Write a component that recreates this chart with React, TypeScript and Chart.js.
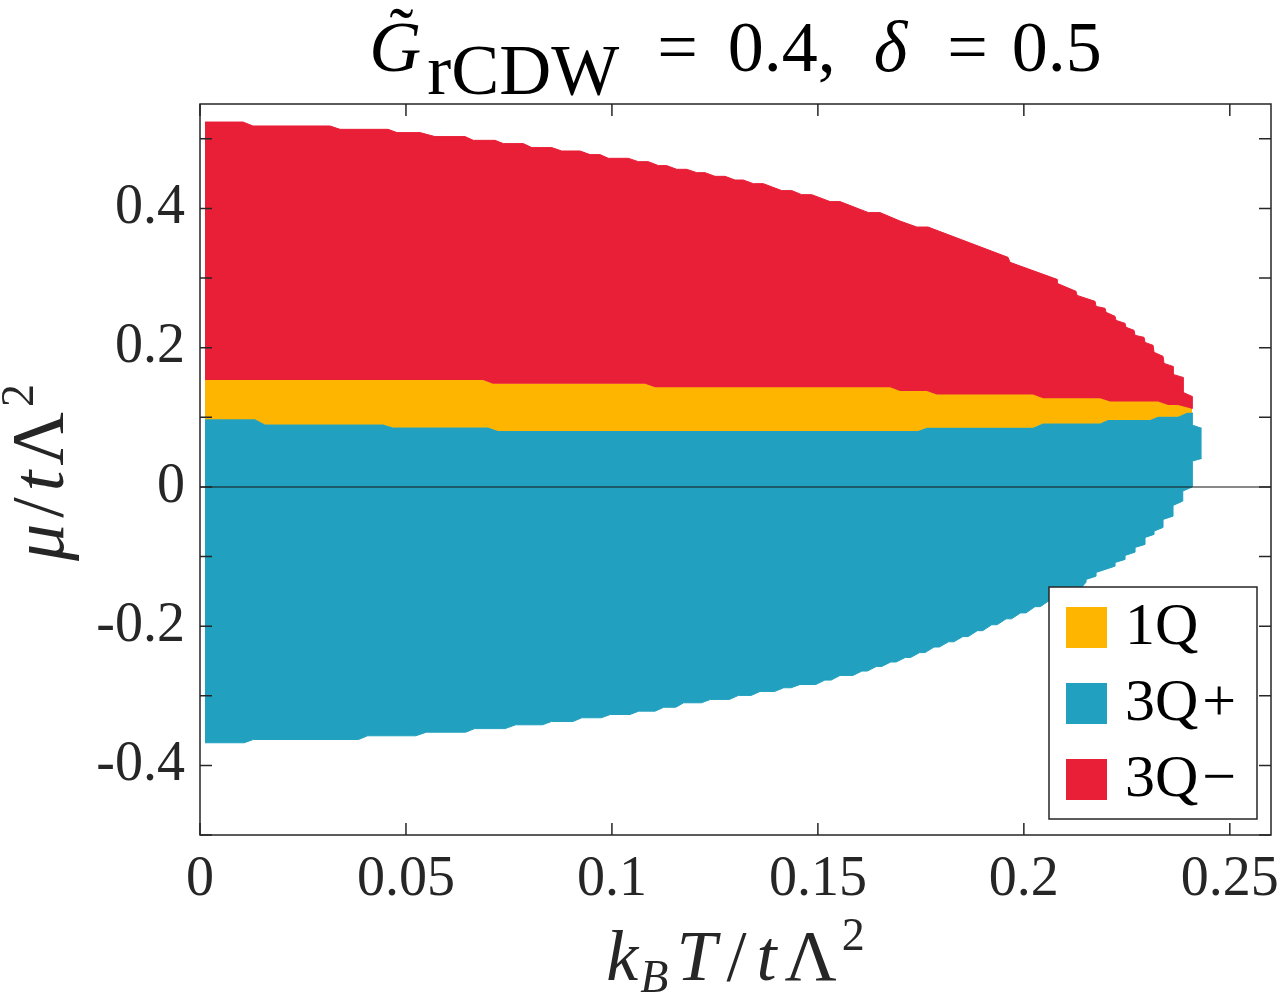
import { useEffect, useRef } from 'react';
import { Chart, registerables } from 'chart.js';

Chart.register(...registerables);

// ---------- data ----------
const X_TICKS = [0, 0.05, 0.1, 0.15, 0.2, 0.25];
const X_TICK_LABELS = ['0', '0.05', '0.1', '0.15', '0.2', '0.25'];
const Y_TICKS = [-0.4, -0.2, 0, 0.2, 0.4];
const Y_TICK_LABELS = ['-0.4', '-0.2', '0', '0.2', '0.4'];
const Y_MINOR_TICKS = [-0.5, -0.4, -0.3, -0.2, -0.1, 0, 0.1, 0.2, 0.3, 0.4, 0.5];

const PHASES = ['1Q', '3Q+', '3Q\u2212'];
const PHASE_COLORS = ['#FDB500', '#22A0BF', '#E81F37'];

// upper boundary of the 3Q− region
const RED_TOP: [number, number][] = [
  [0.00121, 0.5241], [0.01044, 0.5241], [0.01287, 0.5184], [0.03156, 0.5184],
  [0.03399, 0.5136], [0.04564, 0.5136], [0.04783, 0.5089], [0.05341, 0.5089],
  [0.05705, 0.5032], [0.06434, 0.5032], [0.06635, 0.4978], [0.07162, 0.4978],
  [0.07364, 0.4931], [0.07849, 0.4931], [0.08053, 0.4874], [0.08538, 0.4874],
  [0.08781, 0.4825], [0.09226, 0.4825], [0.09468, 0.4773], [0.09711, 0.4773],
  [0.09913, 0.472], [0.10398, 0.472], [0.10641, 0.4672], [0.10884, 0.4672],
  [0.11127, 0.4615], [0.1133, 0.4615], [0.11573, 0.4562], [0.11816, 0.4562],
  [0.12059, 0.4514], [0.1226, 0.4514], [0.12503, 0.4461], [0.12746, 0.4461],
  [0.12989, 0.4408], [0.1319, 0.4408], [0.13433, 0.4356], [0.13676, 0.4356],
  [0.14122, 0.4256], [0.14365, 0.4256], [0.14608, 0.4198], [0.14851, 0.4198],
  [0.15295, 0.4098], [0.15538, 0.4098], [0.16225, 0.394], [0.16509, 0.394],
  [0.16994, 0.3819], [0.174, 0.3733], [0.17674, 0.3733], [0.19616, 0.3297],
  [0.19665, 0.3226], [0.20806, 0.2981], [0.20806, 0.2924], [0.21267, 0.2809],
  [0.21292, 0.2751], [0.21729, 0.2665], [0.21753, 0.2593], [0.21971, 0.2565],
  [0.21996, 0.2507], [0.22214, 0.245], [0.22238, 0.2392], [0.22457, 0.2349],
  [0.22481, 0.2292], [0.22675, 0.2249], [0.227, 0.2177], [0.22918, 0.2148],
  [0.22942, 0.2076], [0.23137, 0.2033], [0.23161, 0.1933], [0.23379, 0.1875],
  [0.23404, 0.1774], [0.23622, 0.1731], [0.23622, 0.1616], [0.23865, 0.1573],
  [0.23865, 0.1358], [0.24083, 0.13], [0.24083, 0.1124],
];

// boundary between 3Q− and 1Q
const RED_YELLOW: [number, number][] = [
  [0.00121, 0.1534], [0.06871, 0.1534], [0.07113, 0.148], [0.10804, 0.148],
  [0.11046, 0.143], [0.16752, 0.143], [0.16994, 0.1376], [0.17643, 0.1376],
  [0.17886, 0.1329], [0.20223, 0.1329], [0.20466, 0.1272], [0.2185, 0.1272],
  [0.22093, 0.1228], [0.23258, 0.1228], [0.23501, 0.1175], [0.23744, 0.1175],
  [0.24083, 0.1124],
];

// boundary between 1Q and 3Q+
const YELLOW_BLUE: [number, number][] = [
  [0.00121, 0.097], [0.01335, 0.097], [0.01578, 0.0898], [0.04443, 0.0898],
  [0.04686, 0.0855], [0.06992, 0.0855], [0.07235, 0.0802], [0.17431, 0.0802],
  [0.17643, 0.0851], [0.20223, 0.0851], [0.20466, 0.0912], [0.2185, 0.0912],
  [0.22044, 0.096], [0.23064, 0.096], [0.23258, 0.1009], [0.23744, 0.1009],
  [0.23962, 0.1066], [0.24083, 0.1066],
];

// right tip of the 3Q+ region (upper part)
const BLUE_TIP: [number, number][] = [
  [0.24083, 0.0888], [0.24319, 0.0841],
];

// lower boundary of the 3Q+ region
const BLUE_BOTTOM: [number, number][] = [
  [0.00121, -0.3675], [0.01075, -0.3675], [0.01292, -0.3628], [0.0385, -0.3628],
  [0.04067, -0.3575], [0.05237, -0.3575], [0.05496, -0.3523], [0.06451, -0.3523],
  [0.06667, -0.3472], [0.07405, -0.3472], [0.07665, -0.3417], [0.08315, -0.3417],
  [0.08531, -0.337], [0.09053, -0.337], [0.09269, -0.3316], [0.09745, -0.3316],
  [0.0996, -0.3269], [0.10439, -0.3269], [0.1065, -0.3221], [0.11046, -0.3221],
  [0.1126, -0.3165], [0.1155, -0.3165], [0.11741, -0.3101], [0.12173, -0.3101],
  [0.1239, -0.3053], [0.1285, -0.3053], [0.1307, -0.2995], [0.1338, -0.2995],
  [0.13596, -0.2938], [0.1395, -0.2938], [0.1417, -0.2885], [0.1435, -0.2885],
  [0.14567, -0.2838], [0.1495, -0.2838], [0.1517, -0.2775], [0.1532, -0.2775],
  [0.15538, -0.2708], [0.1585, -0.2708], [0.1607, -0.2645], [0.162, -0.2645],
  [0.1642, -0.2579], [0.1655, -0.2579], [0.1677, -0.2515], [0.169, -0.2515],
  [0.1712, -0.245], [0.1725, -0.245], [0.1747, -0.238], [0.176, -0.238],
  [0.1782, -0.23], [0.1795, -0.23], [0.1817, -0.2225], [0.183, -0.2225],
  [0.1852, -0.215], [0.1865, -0.215], [0.1887, -0.2065], [0.19, -0.2065],
  [0.1922, -0.198], [0.1935, -0.198], [0.1957, -0.1895], [0.197, -0.1895],
  [0.1992, -0.181], [0.2005, -0.181], [0.2027, -0.172], [0.204, -0.172],
  [0.2062, -0.163], [0.2075, -0.163], [0.2097, -0.154], [0.211, -0.154],
  [0.2132, -0.1445], [0.214, -0.1445],
  [0.2151, -0.1368], [0.2151, -0.1329], [0.21753, -0.1282],
  [0.21753, -0.1228], [0.22214, -0.1138], [0.22214, -0.1085], [0.22457, -0.1042],
  [0.22457, -0.0984], [0.227, -0.0937], [0.227, -0.0869], [0.22942, -0.0826],
  [0.22942, -0.0726], [0.23161, -0.0682], [0.23161, -0.0635], [0.23379, -0.0582],
  [0.23379, -0.0467], [0.23622, -0.042], [0.23622, -0.0266], [0.23858, -0.0204],
  [0.23858, -0.006], [0.24091, 0], [0.24091, 0.0371], [0.24319, 0.0409],
];

const ZERO_LINE: [number, number][] = [[0, 0], [0.26, 0]];

// ---------- styling ----------
const FAMILY = '"Liberation Serif", "Times New Roman", serif';
const AXIS_COLOR = '#262626';
const TICK_LEN = 12;

type Seg = { t: string; it?: boolean; s?: number; dy?: number; g?: number };

function drawSegs(ctx: CanvasRenderingContext2D, segs: Seg[], base: number, cx: number, by: number) {
  const fontOf = (sg: Seg) => `${sg.it ? 'italic ' : ''}${sg.s ?? base}px ${FAMILY}`;
  const widths = segs.map((sg) => {
    if (sg.g !== undefined) return sg.g;
    ctx.font = fontOf(sg);
    return ctx.measureText(sg.t).width;
  });
  const total = widths.reduce((a, b) => a + b, 0);
  let x = cx - total / 2;
  const starts: number[] = [];
  segs.forEach((sg, i) => {
    starts.push(x);
    if (sg.g === undefined) {
      ctx.font = fontOf(sg);
      ctx.fillText(sg.t, x, by + (sg.dy ?? 0));
    }
    x += widths[i];
  });
  return { starts, widths };
}

const decorPlugin = {
  id: 'decor',
  afterDraw(chart: any) {
    const { ctx, chartArea: a, scales } = chart;
    const xs = scales.x;
    const ys = scales.y;
    ctx.save();

    // axes box
    ctx.strokeStyle = AXIS_COLOR;
    ctx.lineWidth = 1.5;
    ctx.strokeRect(a.left, a.top, a.right - a.left, a.bottom - a.top);

    // inward ticks on all four sides
    ctx.beginPath();
    X_TICKS.forEach((v) => {
      const px = xs.getPixelForValue(v);
      ctx.moveTo(px, a.bottom);
      ctx.lineTo(px, a.bottom - TICK_LEN);
      ctx.moveTo(px, a.top);
      ctx.lineTo(px, a.top + TICK_LEN);
    });
    Y_MINOR_TICKS.forEach((v) => {
      const py = ys.getPixelForValue(v);
      ctx.moveTo(a.left, py);
      ctx.lineTo(a.left + TICK_LEN, py);
      ctx.moveTo(a.right, py);
      ctx.lineTo(a.right - TICK_LEN, py);
    });
    ctx.stroke();

    // legend
    const lw = 208;
    const lh = 232;
    const lx = a.right - 14 - lw;
    const ly = a.bottom - 16 - lh;
    ctx.fillStyle = '#ffffff';
    ctx.fillRect(lx, ly, lw, lh);
    ctx.lineWidth = 1.5;
    ctx.strokeStyle = AXIS_COLOR;
    ctx.strokeRect(lx, ly, lw, lh);
    PHASES.forEach((name, i) => {
      const cy = ly + 40.5 + i * 76;
      ctx.fillStyle = PHASE_COLORS[i];
      ctx.fillRect(lx + 17, cy - 20.5, 41, 41);
      ctx.fillStyle = '#000000';
      ctx.font = `60px ${FAMILY}`;
      ctx.textAlign = 'left';
      ctx.textBaseline = 'alphabetic';
      const base = name.slice(0, name.length - (i === 0 ? 0 : 1));
      ctx.fillText(base, lx + 76, cy + 16);
      if (i > 0) {
        const w = ctx.measureText(base).width;
        ctx.fillText(name.slice(-1), lx + 76 + w + 4, cy + 16);
      }
    });

    // title
    ctx.fillStyle = '#000000';
    ctx.textAlign = 'left';
    ctx.textBaseline = 'alphabetic';
    const title: Seg[] = [
      { t: 'G', it: true },
      { t: '', g: 6 },
      { t: 'rCDW', dy: 23 },
      { t: '', g: 38 },
      { t: '=' },
      { t: '', g: 30 },
      { t: '0.4,' },
      { t: '', g: 38 },
      { t: '\u03B4', it: true },
      { t: '', g: 40 },
      { t: '=' },
      { t: '', g: 24 },
      { t: '0.5' },
    ];
    const tcx = (a.left + a.right) / 2;
    const { starts, widths } = drawSegs(ctx, title, 72, tcx, 71);
    ctx.font = `72px ${FAMILY}`;
    const tw = ctx.measureText('\u02DC').width;
    ctx.fillText('\u02DC', starts[0] + widths[0] * 0.62 - tw / 2, 57);

    // x axis title
    ctx.fillStyle = AXIS_COLOR;
    const xt: Seg[] = [
      { t: 'k', it: true },
      { t: '', g: 2 },
      { t: 'B', it: true, s: 46, dy: 12 },
      { t: '', g: 8 },
      { t: 'T', it: true },
      { t: '', g: 10 },
      { t: '/' },
      { t: '', g: 10 },
      { t: 't', it: true },
      { t: '', g: 8 },
      { t: '\u039B' },
      { t: '', g: 5 },
      { t: '2', s: 46, dy: -30 },
    ];
    drawSegs(ctx, xt, 72, tcx, 980);

    // y axis title (rotated)
    const yt: Seg[] = [
      { t: '\u03BC', it: true },
      { t: '', g: 6 },
      { t: '/' },
      { t: '', g: 6 },
      { t: 't', it: true },
      { t: '', g: 5 },
      { t: '\u039B' },
      { t: '', g: 5 },
      { t: '2', s: 46, dy: -30 },
    ];
    ctx.translate(63, (a.top + a.bottom) / 2 + 3);
    ctx.rotate(-Math.PI / 2);
    drawSegs(ctx, yt, 74, 0, 0);

    ctx.restore();
  },
};

const toXY = (arr: [number, number][]) => arr.map(([x, y]) => ({ x, y }));

export default function App() {
  const ref = useRef<HTMLCanvasElement | null>(null);

  useEffect(() => {
    document.body.style.margin = '0';
    const canvas = ref.current;
    if (!canvas) return;
    const tickFont = { family: FAMILY, size: 56 };
    const chart = new Chart(canvas, {
      type: 'line',
      data: {
        datasets: [
          {
            label: 'zero',
            data: toXY(ZERO_LINE),
            borderColor: 'rgba(20,20,20,0.5)',
            borderWidth: 2,
            pointRadius: 0,
            fill: false,
          },
          {
            label: PHASES[2],
            data: toXY(RED_TOP),
            borderColor: PHASE_COLORS[2],
            backgroundColor: PHASE_COLORS[2],
            borderWidth: 1,
            pointRadius: 0,
            fill: 2,
          },
          {
            label: PHASES[0],
            data: toXY(RED_YELLOW),
            borderColor: PHASE_COLORS[0],
            backgroundColor: PHASE_COLORS[0],
            borderWidth: 1,
            pointRadius: 0,
            fill: 3,
          },
          {
            label: PHASES[1],
            data: toXY([...YELLOW_BLUE, ...BLUE_TIP]),
            borderColor: PHASE_COLORS[1],
            backgroundColor: PHASE_COLORS[1],
            borderWidth: 1,
            pointRadius: 0,
            fill: 4,
          },
          {
            label: PHASES[1] + ' lower',
            data: toXY(BLUE_BOTTOM),
            borderColor: PHASE_COLORS[1],
            borderWidth: 1,
            pointRadius: 0,
            fill: false,
          },
        ],
      },
      options: {
        animation: false,
        responsive: false,
        devicePixelRatio: 1,
        events: [],
        layout: { padding: { top: 104, right: 11, left: 0, bottom: 0 } },
        plugins: {
          legend: { display: false },
          tooltip: { enabled: false },
          title: { display: false },
        },
        scales: {
          x: {
            type: 'linear',
            min: 0,
            max: 0.26,
            afterBuildTicks: (s: any) => {
              s.ticks = X_TICKS.map((v) => ({ value: v }));
            },
            afterFit: (s: any) => {
              s.height = 168;
              s.paddingLeft = 0;
              s.paddingRight = 0;
            },
            ticks: {
              callback: (_v: any, i: number) => X_TICK_LABELS[i],
              font: tickFont,
              color: AXIS_COLOR,
              padding: 12,
              maxRotation: 0,
              autoSkip: false,
            },
            grid: { display: false, drawTicks: false },
            border: { display: false },
          },
          y: {
            type: 'linear',
            min: -0.5,
            max: 0.55,
            afterBuildTicks: (s: any) => {
              s.ticks = Y_TICKS.map((v) => ({ value: v }));
            },
            afterFit: (s: any) => {
              s.width = 200;
              s.paddingTop = 0;
              s.paddingBottom = 0;
            },
            ticks: {
              callback: (_v: any, i: number) => Y_TICK_LABELS[i],
              font: tickFont,
              color: AXIS_COLOR,
              padding: 15,
              autoSkip: false,
            },
            grid: { display: false, drawTicks: false },
            border: { display: false },
          },
        },
      },
      plugins: [decorPlugin],
    } as any);
    return () => chart.destroy();
  }, []);

  return (
    <div style={{ position: 'relative', width: 1282, height: 1003, background: '#ffffff' }}>
      <canvas ref={ref} width={1282} height={1003} style={{ width: 1282, height: 1003, display: 'block' }} />
    </div>
  );
}
